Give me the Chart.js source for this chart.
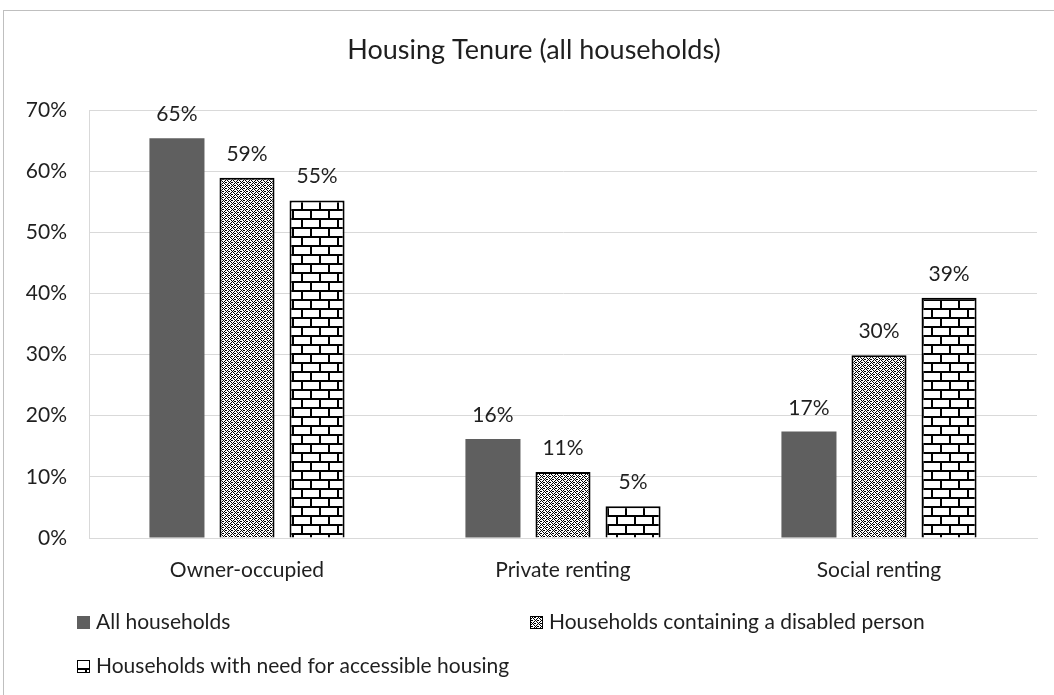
<!DOCTYPE html>
<html>
<head>
<meta charset="utf-8">
<script src="https://cdn.jsdelivr.net/npm/chart.js@4"></script>
<style>
  html, body { margin: 0; padding: 0; background: #fff; overflow: hidden; }
  #frame {
    position: absolute; left: 3px; top: 10px;
    width: 1070px; height: 700px;
    border-left: 1px solid #bfbfbf; border-top: 1px solid #bfbfbf;
  }
  #myChart { display: block; }
</style>
</head>
<body>
<div id="frame"><canvas id="myChart" width="1062" height="684"></canvas></div>
<script>
const chartTitle = "Housing Tenure (all households)";
const categories = ["Owner-occupied", "Private renting", "Social renting"];
const seriesNames = [
  "All households",
  "Households containing a disabled person",
  "Households with need for accessible housing",
];
const allHouseholds = [65.4, 16.2, 17.4];
const disabledPerson = [58.9, 10.8, 29.9];
const accessibleNeed = [55.2, 5.2, 39.3];
const yTicks = [0, 10, 20, 30, 40, 50, 60, 70];

const FONT = "Lato, 'Open Sans', sans-serif";
const TEXT = "#1f1f1f";
const LABEL_SIZE = 21;

// small black & white fills for the hatched series
function makeDiamondPattern() {
  const c = document.createElement("canvas");
  c.width = 6;
  c.height = 6;
  const g = c.getContext("2d");
  g.fillStyle = "#fff";
  g.fillRect(0, 0, 6, 6);
  g.fillStyle = "#000";
  for (let y = 0; y < 6; y++) {
    for (let x = 0; x < 6; x++) {
      if ((x + y) % 6 === 0 || (x - y + 6) % 6 === 0) g.fillRect(x, y, 1, 1);
    }
  }
  // dots in the middle of each diamond
  g.fillRect(3, 0, 1, 1);
  g.fillRect(0, 3, 1, 1);
  g.fillRect(2, 0, 1, 1);
  g.fillRect(5, 3, 1, 1);
  return g.createPattern(c, "repeat");
}

function makeBrickPattern() {
  const c = document.createElement("canvas");
  c.width = 18;
  c.height = 18;
  const g = c.getContext("2d");
  g.fillStyle = "#fff";
  g.fillRect(0, 0, 18, 18);
  g.fillStyle = "#000";
  g.fillRect(0, 0, 18, 2);
  g.fillRect(0, 9, 18, 2);
  g.fillRect(0, 0, 2, 9);
  g.fillRect(9, 9, 2, 9);
  return g.createPattern(c, "repeat");
}

document.addEventListener("DOMContentLoaded", function () {
  createBarChart();
});

function createBarChart() {
  const diamond = makeDiamondPattern();
  const brick = makeBrickPattern();

  // title, legend and value labels drawn straight onto the canvas
  const decorPlugin = {
    id: "decor",
    afterDatasetsDraw(chart) {
      const ctx = chart.ctx;
      ctx.save();
      ctx.fillStyle = TEXT;
      ctx.font = LABEL_SIZE + "px " + FONT;
      ctx.textAlign = "center";
      ctx.textBaseline = "alphabetic";
      chart.data.datasets.forEach((ds, i) => {
        const meta = chart.getDatasetMeta(i);
        meta.data.forEach((bar, j) => {
          ctx.fillText(Math.round(ds.data[j]) + "%", bar.x, bar.y - 17);
        });
      });
      ctx.restore();
    },
    afterDraw(chart) {
      const ctx = chart.ctx;
      ctx.save();
      ctx.fillStyle = TEXT;
      ctx.textAlign = "center";
      ctx.textBaseline = "alphabetic";
      ctx.font = "27px " + FONT;
      ctx.fillText(chartTitle, 530, 48);

      const spots = [
        { x: 73, y: 618 },
        { x: 526, y: 618 },
        { x: 73, y: 662 },
      ];
      ctx.font = LABEL_SIZE + "px " + FONT;
      ctx.textAlign = "left";
      chart.data.datasets.forEach((ds, i) => {
        const s = spots[i];
        ctx.fillStyle = ds.backgroundColor;
        ctx.fillRect(s.x, s.y - 13, 13, 13);
        if (ds.borderWidth) {
          ctx.strokeStyle = "#000";
          ctx.lineWidth = 1;
          ctx.strokeRect(s.x + 0.5, s.y - 12.5, 12, 12);
        }
        ctx.fillStyle = TEXT;
        ctx.fillText(ds.label, s.x + 19, s.y);
      });
      ctx.restore();
    },
  };

  const ctx = document.getElementById("myChart").getContext("2d");
  new Chart(ctx, {
    type: "bar",
    data: {
      labels: categories,
      datasets: [
        {
          label: seriesNames[0],
          data: allHouseholds,
          backgroundColor: "#5f5f5f",
          borderWidth: 0,
        },
        {
          label: seriesNames[1],
          data: disabledPerson,
          backgroundColor: diamond,
          borderColor: "#000",
          borderWidth: 2,
        },
        {
          label: seriesNames[2],
          data: accessibleNeed,
          backgroundColor: brick,
          borderColor: "#000",
          borderWidth: 2,
        },
      ],
    },
    options: {
      responsive: false,
      animation: false,
      layout: { padding: { top: 99, right: 29, left: 0, bottom: 0 } },
      datasets: {
        bar: { categoryPercentage: 0.665, barPercentage: 0.786 },
      },
      scales: {
        x: {
          grid: { display: false },
          border: { display: true, color: "#d9d9d9", width: 1 },
          ticks: { color: TEXT, font: { family: FONT, size: LABEL_SIZE }, padding: 12 },
          afterFit(scale) {
            scale.height = 157;
          },
        },
        y: {
          min: 0,
          max: 70,
          afterBuildTicks(scale) {
            scale.ticks = yTicks.map((v) => ({ value: v }));
          },
          grid: { color: "#d9d9d9", drawTicks: false },
          border: { display: true, color: "#d9d9d9", width: 1 },
          ticks: {
            color: TEXT,
            font: { family: FONT, size: LABEL_SIZE },
            padding: 22,
            callback: (v) => v + "%",
          },
          afterFit(scale) {
            scale.width = 85;
          },
        },
      },
      plugins: {
        legend: { display: false },
        title: { display: false },
        tooltip: { enabled: false },
      },
    },
    plugins: [decorPlugin],
  });
}
</script>
</body>
</html>
